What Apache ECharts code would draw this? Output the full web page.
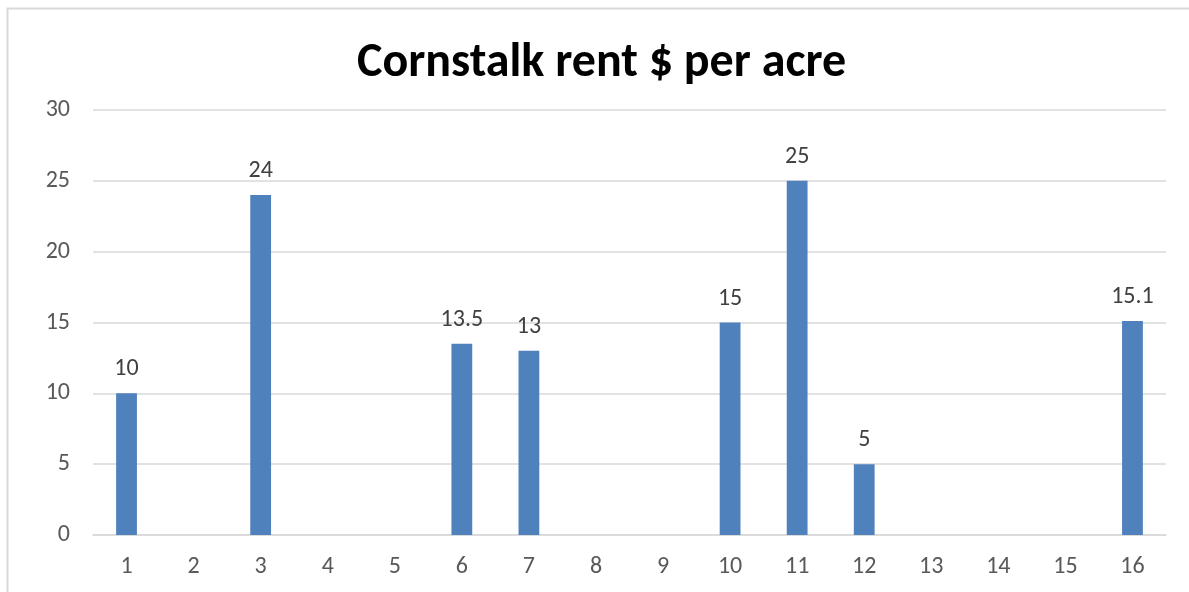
<!DOCTYPE html>
<html>
<head>
<meta charset="utf-8">
<script src="https://cdn.jsdelivr.net/npm/echarts@6/dist/echarts.min.js"></script>
<style>
  html, body { margin: 0; padding: 0; background: #fff; }
  #chart { width: 1189px; height: 592px; }
</style>
</head>
<body>
<div id="chart"></div>
<script>
// Chart data
const categories = ['1', '2', '3', '4', '5', '6', '7', '8', '9', '10', '11', '12', '13', '14', '15', '16'];
const rentValues = [10, null, 24, null, null, 13.5, 13, null, null, 15, 25, 5, null, null, null, 15.1];
const yTicks = { min: 0, max: 30, interval: 5 };

const fontFamily = 'Carlito, "Liberation Sans", "Open Sans", sans-serif';

const myChart = echarts.init(document.getElementById('chart'));

const option = {
    backgroundColor: '#FFFFFF',
    animation: false,
    textStyle: { fontFamily: fontFamily },
    graphic: [{
        type: 'rect',
        shape: { x: 7.5, y: 8.5, width: 1200, height: 600 },
        style: { fill: 'none', stroke: '#D9D9D9', lineWidth: 2 },
        silent: true
    }],
    title: {
        text: 'Cornstalk rent $ per acre',
        left: 357,
        top: 40,
        padding: 0,
        textStyle: {
            fontSize: 48,
            fontWeight: 'bold',
            color: '#000000',
            fontFamily: fontFamily
        }
    },
    grid: {
        left: 93,
        right: 23,
        top: 110,
        bottom: 57,
        containLabel: false
    },
    xAxis: {
        type: 'category',
        data: categories,
        axisLine: { lineStyle: { color: '#D9D9D9', width: 1.5 } },
        axisTick: { show: false },
        axisLabel: {
            color: '#595959',
            fontSize: 24,
            margin: 20
        }
    },
    yAxis: {
        type: 'value',
        min: yTicks.min,
        max: yTicks.max,
        interval: yTicks.interval,
        axisLine: { show: false },
        axisTick: { show: false },
        axisLabel: {
            color: '#595959',
            fontSize: 24,
            margin: 23
        },
        splitLine: {
            lineStyle: { color: '#D9D9D9', width: 1.5 }
        }
    },
    series: [{
        type: 'bar',
        data: rentValues,
        barWidth: '31%',
        itemStyle: { color: '#4F81BD' },
        label: {
            show: true,
            position: 'top',
            distance: 12,
            color: '#404040',
            fontSize: 24
        }
    }]
};

myChart.setOption(option);
</script>
</body>
</html>
